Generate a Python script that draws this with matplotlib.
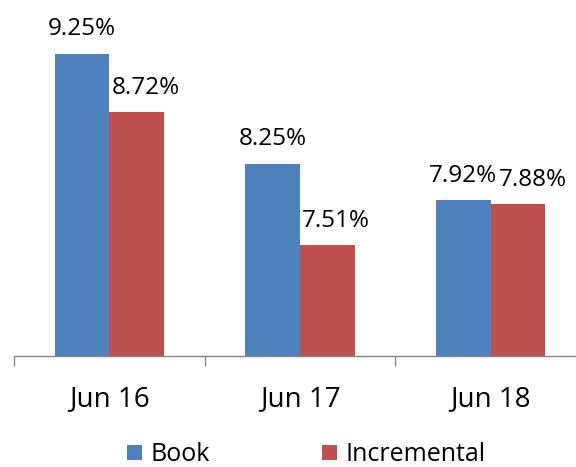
import matplotlib.pyplot as plt
import numpy as np

categories = ["Jun 16", "Jun 17", "Jun 18"]
book = [9.25, 8.25, 7.92]
incremental = [8.72, 7.51, 7.88]

blue = "#4F81BD"
red = "#C0504D"
axis_grey = "#868686"

plt.rcParams['font.family'] = ['Open Sans', 'DejaVu Sans']

fig = plt.figure(figsize=(5.76, 4.67), dpi=100)
# plot area runs a bit past the right edge, as in the reference
ax = fig.add_axes([14 / 576, 111 / 467, 572 / 576, 330 / 467])

x = np.arange(len(categories))
w = 0.286
b1 = ax.bar(x - w / 2, book, w, color=blue, label="Book")
b2 = ax.bar(x + w / 2, incremental, w, color=red, label="Incremental")

# the Incremental labels sit a little right of their bar centres
shifts = {id(b1): [0, 0, 0], id(b2): [6.5, 6.5, 10.5]}
for bars, vals in ((b1, book), (b2, incremental)):
    for rect, v, dx in zip(bars, vals, shifts[id(bars)]):
        ax.annotate(f"{v:.2f}%", (rect.get_x() + rect.get_width() / 2, v),
                    xytext=(dx, 13), textcoords="offset points",
                    ha="center", va="baseline", fontsize=17.5, clip_on=False)

ax.set_xlim(-0.5, 2.5)
ax.set_ylim(6.5, 9.5)

for s in ("top", "left", "right"):
    ax.spines[s].set_visible(False)
ax.spines["bottom"].set_color(axis_grey)
ax.spines["bottom"].set_linewidth(1)
ax.set_yticks([])

ax.set_xticks([-0.5, 0.5, 1.5, 2.5])
ax.set_xticklabels([])
ax.tick_params(axis="x", which="major", length=7, width=1, color=axis_grey)
ax.set_xticks(x, minor=True)
ax.set_xticklabels(categories, minor=True, fontsize=20)
ax.tick_params(axis="x", which="minor", length=0, pad=21)

fig.legend(handles=[b1, b2], loc="center", bbox_to_anchor=(0.532, 0.026),
           ncol=2, frameon=False, fontsize=18, handlelength=0.6,
           handleheight=0.6, handletextpad=0.32, columnspacing=4.5,
           borderpad=0)

fig.savefig("out.png", dpi=100)
